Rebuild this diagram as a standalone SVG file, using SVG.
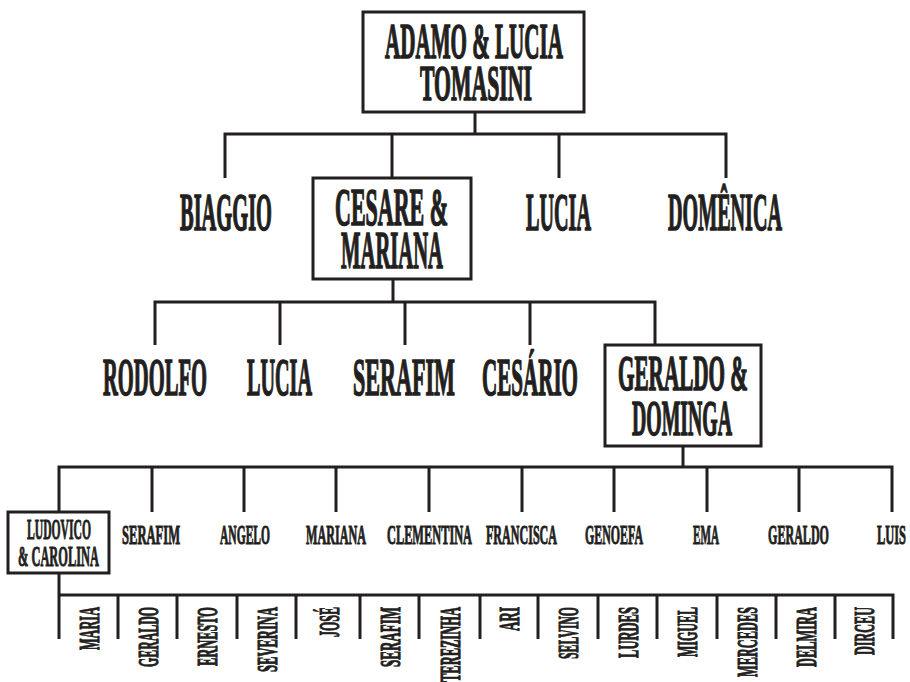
<svg xmlns="http://www.w3.org/2000/svg" width="910" height="682" viewBox="0 0 910 682">
<style>
.bg{fill:#fff}
.box{fill:#fff;stroke:#231f20;stroke-width:3}
.ln{fill:none;stroke:#231f20;stroke-width:3;stroke-linejoin:miter}
text{font-family:"Liberation Serif","Times New Roman",serif;font-weight:bold;fill:#231f20;stroke:#231f20;text-anchor:middle}
.t1{font-size:51px;stroke-width:1.6}
.t2{font-size:53px;stroke-width:1.6}
.t3{font-size:50px;stroke-width:1.6}
.t4{font-size:27px;stroke-width:1}
.t5{font-size:29px;stroke-width:1}
.v{font-size:30px;stroke-width:1.1;text-anchor:end}
</style>
<rect class="bg" x="0" y="0" width="910" height="682"/>
<g id="connectors">
<path class="ln" d="M475,112 V134"/>
<path class="ln" d="M225,178 V134 H726 V178"/>
<path class="ln" d="M392,134 V178"/>
<path class="ln" d="M559,134 V178"/>
<path class="ln" d="M393,279 V302"/>
<path class="ln" d="M155,345 V302 H655 V345"/>
<path class="ln" d="M280,302 V345"/>
<path class="ln" d="M405,302 V345"/>
<path class="ln" d="M530,302 V345"/>
<path class="ln" d="M683,446 V467"/>
<path class="ln" d="M59,512 V467 H892 V512"/>
<path class="ln" d="M152,467 V512 M244,467 V512 M336,467 V512 M429,467 V512 M522,467 V512 M614,467 V512 M707,467 V512 M799,467 V512"/>
<path class="ln" d="M59,573 V639"/>
<path class="ln" d="M59,595 H893 V639"/>
<path class="ln" d="M118,595 V639 M177,595 V639 M237,595 V639 M296,595 V639 M360,595 V639 M419,595 V639 M480,595 V639 M538,595 V639 M598,595 V639 M657,595 V639 M717,595 V639 M776,595 V639 M835,595 V639"/>
</g>
<g id="adamo-lucia">
<rect class="box" x="363" y="12" width="221" height="100"/>
<text class="t1" transform="translate(474,58) scale(0.4134,1)" textLength="430.6" lengthAdjust="spacingAndGlyphs">ADAMO &amp; LUCIA</text>
<text class="t1" transform="translate(476,100) scale(0.4706,1)" textLength="238" lengthAdjust="spacingAndGlyphs">TOMASINI</text>
</g>
<g id="biaggio"><text class="t2" transform="translate(226,230) scale(0.3856,1)" textLength="238.6" lengthAdjust="spacingAndGlyphs">BIAGGIO</text></g>
<g id="cesare-mariana">
<rect class="box" x="313" y="178" width="158" height="101"/>
<text class="t2" transform="translate(391.5,225) scale(0.4148,1)" textLength="272.4" lengthAdjust="spacingAndGlyphs">CESARE &amp;</text>
<text class="t2" transform="translate(392,268) scale(0.3893,1)" textLength="262" lengthAdjust="spacingAndGlyphs">MARIANA</text>
</g>
<g id="lucia-1"><text class="t2" transform="translate(558.5,230) scale(0.3806,1)" textLength="170.8" lengthAdjust="spacingAndGlyphs">LUCIA</text></g>
<g id="domenica"><text class="t2" transform="translate(725,230) scale(0.3796,1)" textLength="300.3" lengthAdjust="spacingAndGlyphs">DOMÊNICA</text></g>
<g id="rodolfo"><text class="t2" transform="translate(155,395) scale(0.3881,1)" textLength="268" lengthAdjust="spacingAndGlyphs">RODOLFO</text></g>
<g id="lucia-2"><text class="t2" transform="translate(279.5,395) scale(0.3806,1)" textLength="170.8" lengthAdjust="spacingAndGlyphs">LUCIA</text></g>
<g id="serafim-1"><text class="t2" transform="translate(404,395) scale(0.4173,1)" textLength="244.4" lengthAdjust="spacingAndGlyphs">SERAFIM</text></g>
<g id="cesario"><text class="t2" transform="translate(530,395) scale(0.3975,1)" textLength="241.5" lengthAdjust="spacingAndGlyphs">CESÁRIO</text></g>
<g id="geraldo-dominga">
<rect class="box" x="605" y="345" width="156" height="101"/>
<text class="t3" transform="translate(683,390) scale(0.4235,1)" textLength="307" lengthAdjust="spacingAndGlyphs">GERALDO &amp;</text>
<text class="t3" transform="translate(682,435) scale(0.3956,1)" textLength="252.8" lengthAdjust="spacingAndGlyphs">DOMINGA</text>
</g>
<g id="ludovico-carolina">
<rect class="box" x="8" y="512" width="101" height="61"/>
<text class="t5" transform="translate(59,539) scale(0.4013,1)" textLength="159.5" lengthAdjust="spacingAndGlyphs">LUDOVICO</text>
<text class="t5" transform="translate(58.5,566) scale(0.4279,1)" textLength="189.3" lengthAdjust="spacingAndGlyphs">&amp; CAROLINA</text>
</g>
<g id="serafim-2"><text class="t4" transform="translate(151,544) scale(0.4659,1)" textLength="124.5" lengthAdjust="spacingAndGlyphs">SERAFIM</text></g>
<g id="angelo"><text class="t4" transform="translate(245,544) scale(0.4274,1)" textLength="117" lengthAdjust="spacingAndGlyphs">ANGELO</text></g>
<g id="mariana"><text class="t4" transform="translate(336,544) scale(0.4494,1)" textLength="133.5" lengthAdjust="spacingAndGlyphs">MARIANA</text></g>
<g id="clementina"><text class="t4" transform="translate(429.5,544) scale(0.457,1)" textLength="186" lengthAdjust="spacingAndGlyphs">CLEMENTINA</text></g>
<g id="francisca"><text class="t4" transform="translate(521.5,544) scale(0.4465,1)" textLength="159" lengthAdjust="spacingAndGlyphs">FRANCISCA</text></g>
<g id="genoefa"><text class="t4" transform="translate(614,544) scale(0.4345,1)" textLength="133.5" lengthAdjust="spacingAndGlyphs">GENOEFA</text></g>
<g id="ema"><text class="t4" transform="translate(706,544) scale(0.4127,1)" textLength="63" lengthAdjust="spacingAndGlyphs">EMA</text></g>
<g id="geraldo-2"><text class="t4" transform="translate(798.5,544) scale(0.4469,1)" textLength="136.5" lengthAdjust="spacingAndGlyphs">GERALDO</text></g>
<g id="luis"><text class="t4" transform="translate(891.5,544) scale(0.4603,1)" textLength="63" lengthAdjust="spacingAndGlyphs">LUIS</text></g>
<g id="maria"><text class="v" transform="translate(98.5,607) rotate(-90) scale(0.4095,1)" textLength="105" lengthAdjust="spacingAndGlyphs">MARIA</text></g>
<g id="geraldo-3"><text class="v" transform="translate(157.5,607) rotate(-90) scale(0.3955,1)" textLength="151.7" lengthAdjust="spacingAndGlyphs">GERALDO</text></g>
<g id="ernesto"><text class="v" transform="translate(217,607) rotate(-90) scale(0.4114,1)" textLength="143.4" lengthAdjust="spacingAndGlyphs">ERNESTO</text></g>
<g id="severina"><text class="v" transform="translate(276.5,607) rotate(-90) scale(0.4194,1)" textLength="155" lengthAdjust="spacingAndGlyphs">SEVERINA</text></g>
<g id="jose"><text class="v" transform="translate(339,607) rotate(-90) scale(0.4,1)" textLength="75" lengthAdjust="spacingAndGlyphs">JOSÉ</text></g>
<g id="serafim-3"><text class="v" transform="translate(399.5,607) rotate(-90) scale(0.4338,1)" textLength="138.3" lengthAdjust="spacingAndGlyphs">SERAFIM</text></g>
<g id="terezinha"><text class="v" transform="translate(459.5,607) rotate(-90) scale(0.4167,1)" textLength="180" lengthAdjust="spacingAndGlyphs">TEREZINHA</text></g>
<g id="ari"><text class="v" transform="translate(519,607) rotate(-90) scale(0.4364,1)" textLength="55" lengthAdjust="spacingAndGlyphs">ARI</text></g>
<g id="selvino"><text class="v" transform="translate(578,607) rotate(-90) scale(0.3852,1)" textLength="135" lengthAdjust="spacingAndGlyphs">SELVINO</text></g>
<g id="lurdes"><text class="v" transform="translate(637.5,607) rotate(-90) scale(0.4191,1)" textLength="121.7" lengthAdjust="spacingAndGlyphs">LURDES</text></g>
<g id="miguel"><text class="v" transform="translate(697,607) rotate(-90) scale(0.4,1)" textLength="125" lengthAdjust="spacingAndGlyphs">MIGUEL</text></g>
<g id="mercedes"><text class="v" transform="translate(756.5,607) rotate(-90) scale(0.4118,1)" textLength="170" lengthAdjust="spacingAndGlyphs">MERCEDES</text></g>
<g id="delmira"><text class="v" transform="translate(815.5,607) rotate(-90) scale(0.4138,1)" textLength="145" lengthAdjust="spacingAndGlyphs">DELMIRA</text></g>
<g id="dirceu"><text class="v" transform="translate(874,607) rotate(-90) scale(0.4058,1)" textLength="118.3" lengthAdjust="spacingAndGlyphs">DIRCEU</text></g>
</svg>
